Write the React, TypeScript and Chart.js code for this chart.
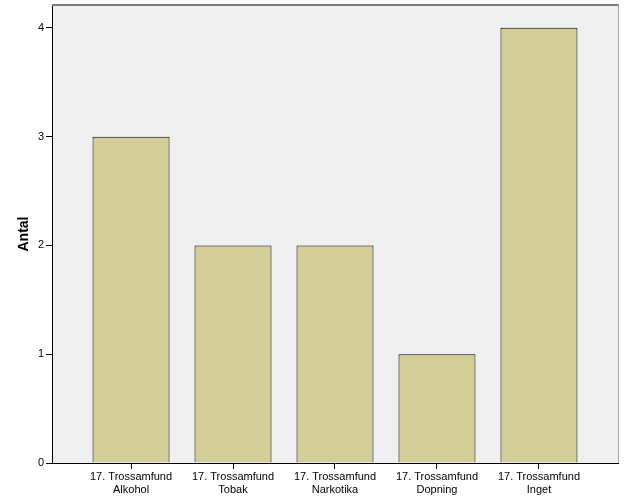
import React, { useEffect, useRef } from "react";
import { Chart, registerables } from "chart.js";

Chart.register(...registerables);

const categories = ["Alkohol", "Tobak", "Narkotika", "Dopning", "Inget"];
const prefix = "17. Trossamfund";
const counts = [3, 2, 2, 1, 4];
const yTicks = [0, 1, 2, 3, 4];
const yTitle = "Antal";

const framePlugin = {
  id: "frame",
  beforeDraw(chart: any) {
    const { ctx, chartArea: a } = chart;
    ctx.save();
    ctx.fillStyle = "#f0f0f0";
    ctx.fillRect(a.left, a.top, a.right - a.left, a.bottom - a.top);
    ctx.restore();
  },
  afterDraw(chart: any) {
    const { ctx, chartArea: a } = chart;
    ctx.save();
    ctx.strokeStyle = "#7a7a7a";
    ctx.lineWidth = 2;
    ctx.beginPath();
    ctx.moveTo(a.left, a.top);
    ctx.lineTo(a.right + 1, a.top);
    ctx.stroke();
    ctx.strokeStyle = "#a8a8a8";
    ctx.lineWidth = 1;
    ctx.beginPath();
    ctx.moveTo(a.right + 0.5, a.top);
    ctx.lineTo(a.right + 0.5, a.bottom);
    ctx.stroke();
    ctx.restore();
  },
};

export default function App() {
  const ref = useRef<HTMLCanvasElement>(null);
  useEffect(() => {
    if (!ref.current) return;
    const chart = new Chart(ref.current, {
      type: "bar",
      data: {
        datasets: [
          {
            data: counts.map((v, i) => ({ x: i, y: v })),
            backgroundColor: "#d3ce97",
            borderColor: "#000000",
            borderWidth: 1,
            barPercentage: 1,
            categoryPercentage: 0.755,
          },
        ],
      },
      options: {
        animation: false,
        responsive: false,
        maintainAspectRatio: false,
        layout: { padding: { top: 5, right: 8, left: 0, bottom: 0 } },
        plugins: { legend: { display: false }, tooltip: { enabled: false } },
        scales: {
          x: {
            type: "linear",
            offset: false,
            min: -0.775,
            max: 4.775,
            afterBuildTicks: (s: any) => {
              s.ticks = categories.map((_, i) => ({ value: i }));
            },
            afterFit: (s: any) => {
              s.height = 38;
              s.paddingLeft = 0;
              s.paddingRight = 0;
            },
            grid: {
              offset: false,
              drawOnChartArea: false,
              drawTicks: true,
              tickLength: 6,
              color: "#000",
            },
            border: { display: true, color: "#000", width: 1 },
            ticks: {
              autoSkip: false,
              maxRotation: 0,
              padding: 2,
              color: "#000",
              font: { family: "Liberation Sans, Arial, sans-serif", size: 11, lineHeight: 1.15 },
              callback: (v: any) => [prefix, categories[v]],
            },
          },
          y: {
            min: 0,
            max: 4.21,
            afterBuildTicks: (s: any) => {
              s.ticks = yTicks.map((v) => ({ value: v }));
            },
            afterFit: (s: any) => {
              s.width = 52;
              s.paddingTop = 0;
              s.paddingBottom = 0;
            },
            grid: {
              drawOnChartArea: false,
              drawTicks: true,
              tickLength: 6,
              color: "#000",
            },
            border: { display: true, color: "#000", width: 1 },
            ticks: {
              padding: 2,
              color: "#000",
              font: { family: "Liberation Sans, Arial, sans-serif", size: 11 },
            },
            title: {
              display: true,
              text: yTitle,
              color: "#000",
              padding: { top: 16, bottom: 0 },
              font: { family: "Liberation Sans, Arial, sans-serif", size: 14, weight: "bold" },
            },
          },
        },
      },
      plugins: [framePlugin],
    });
    return () => chart.destroy();
  }, []);
  return (
    <div style={{ position: "absolute", left: 0, top: 0, width: 626, height: 501, background: "#fff" }}>
      <canvas ref={ref} width={626} height={501} style={{ width: 626, height: 501 }} />
    </div>
  );
}
